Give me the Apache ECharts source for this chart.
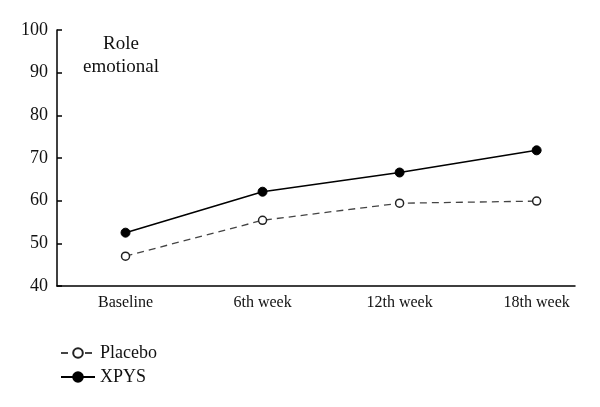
<!DOCTYPE html>
<html><head><meta charset="utf-8">
<script src="https://cdn.jsdelivr.net/npm/echarts@6/dist/echarts.min.js"></script>
<style>html,body{margin:0;padding:0;background:#fff}#c{width:600px;height:407px}</style>
</head><body><div id="c"></div>
<script>
const categories = ["Baseline", "6th week", "12th week", "18th week"];
const placebo = [47.0, 55.4, 59.4, 59.9];
const xpys = [52.5, 62.1, 66.6, 71.8];
const yTicks = [40, 50, 60, 70, 80, 90, 100];

const FONT = "Liberation Serif";
const chart = echarts.init(document.getElementById('c'), null, {renderer: 'canvas'});
const toPts = arr => arr.map((v, i) => [i, v]);
chart.setOption({
  animation: false,
  backgroundColor: '#fff',
  textStyle: {fontFamily: FONT},
  title: {
    text: 'Role\nemotional',
    left: 116, top: 28, textAlign: 'center',
    textStyle: {fontFamily: FONT, fontSize: 19, fontWeight: 'normal', color: '#111', lineHeight: 23, align: 'center'}
  },
  grid: {left: 57, right: 25, top: 30, bottom: 121},
  xAxis: {
    type: 'value', min: -0.5, max: 3.28,
    splitLine: {show: false},
    axisLine: {show: true, onZero: false, lineStyle: {color: '#000', width: 1.5}},
    axisTick: {show: false},
    axisLabel: {
      customValues: [0, 1, 2, 3], showMinLabel: true, showMaxLabel: true,
      formatter: v => categories[Math.round(v)] || '',
      color: '#111', fontFamily: FONT, fontSize: 16, margin: 9
    }
  },
  yAxis: {
    type: 'value', min: 40, max: 100, interval: 10,
    splitLine: {show: false},
    axisLine: {show: true, onZero: false, lineStyle: {color: '#000', width: 1.5}},
    axisTick: {show: true, inside: true, length: 5, lineStyle: {color: '#000', width: 1.5}},
    axisLabel: {color: '#111', fontFamily: FONT, fontSize: 18, margin: 9,
      formatter: v => yTicks.includes(v) ? String(v) : ''}
  },
  legend: {
    orient: 'vertical', left: 55, top: 339, itemGap: 6,
    itemWidth: 34, itemHeight: 12,
    textStyle: {fontFamily: FONT, fontSize: 18, color: '#111'},
    data: ['Placebo', 'XPYS']
  },
  series: [
    {
      name: 'Placebo', type: 'line', data: toPts(placebo),
      symbol: 'circle', symbolSize: 8,
      itemStyle: {color: '#fff', borderColor: '#222', borderWidth: 1.5},
      lineStyle: {color: '#444', width: 1.3, type: [7, 5]}
    },
    {
      name: 'XPYS', type: 'line', data: toPts(xpys),
      symbol: 'circle', symbolSize: 9,
      itemStyle: {color: '#000', borderColor: '#000', borderWidth: 1},
      lineStyle: {color: '#000', width: 1.6}
    }
  ]
});
</script></body></html>
